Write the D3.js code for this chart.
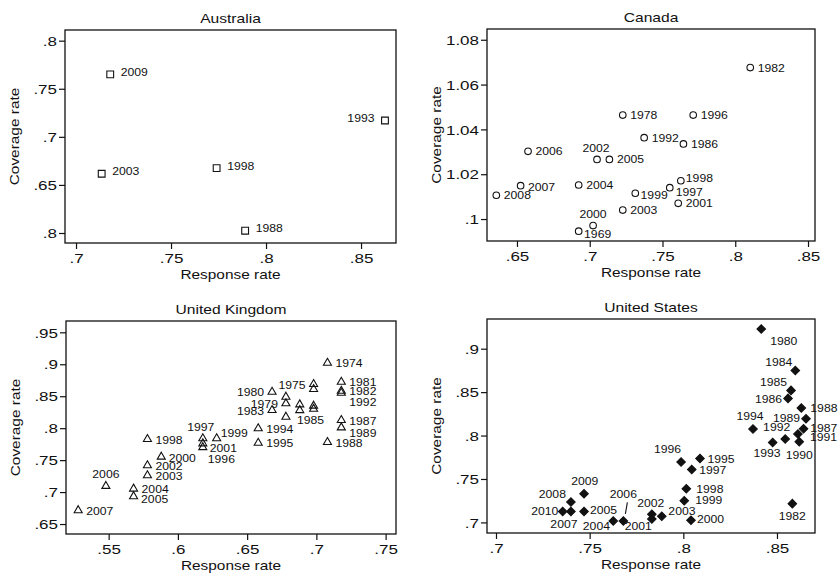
<!DOCTYPE html>
<html>
<head>
<meta charset="utf-8">
<script src="https://cdn.jsdelivr.net/npm/d3@7"></script>
<style>
  body { margin: 0; background: #fff; }
  text { font-family: "Liberation Sans", Arial, sans-serif; fill: #111; }
</style>
</head>
<body>
<svg id="chart" width="838" height="573"></svg>
<script>
// Four small scatter panels: coverage rate vs response rate, labelled by year.

// Australia
const auYears = ["1988", "1993", "1998", "2003", "2009"];
const auResp  = [0.789, 0.8626, 0.774, 0.7135, 0.718];
const auCov   = [0.6024, 0.717, 0.6675, 0.6616, 0.765];

// Canada
const caYears = ["1969", "1978", "1982", "1986", "1992", "1996", "1997", "1998", "1999",
                 "2000", "2001", "2002", "2003", "2004", "2005", "2006", "2007", "2008"];
const caResp  = [0.6924, 0.7227, 0.8103, 0.7644, 0.7374, 0.7711, 0.755, 0.7626, 0.7313,
                 0.7023, 0.7608, 0.705, 0.7227, 0.6924, 0.7135, 0.6576, 0.6525, 0.6358];
const caCov   = [0.9946, 1.0464, 1.0676, 1.0335, 1.0363, 1.0464, 1.014, 1.0171, 1.0115,
                 0.9971, 1.007, 1.0266, 1.004, 1.0152, 1.0266, 1.0302, 1.0149, 1.0106];

// United Kingdom ("" = point without a printed label)
const ukYears = ["1974", "1975", "", "", "", "1979", "", "1980", "1981", "1982", "1992",
                 "1983", "1985", "", "", "1987", "1988", "1989", "1994", "1995", "1996",
                 "1997", "1998", "1999", "2000", "2001", "2002", "2003", "2004", "2005",
                 "2006", "2007"];
const ukResp  = [0.708, 0.698, 0.698, 0.698, 0.698, 0.678, 0.678, 0.668, 0.718, 0.718, 0.718,
                 0.668, 0.678, 0.688, 0.688, 0.718, 0.708, 0.718, 0.658, 0.658, 0.618,
                 0.618, 0.578, 0.628, 0.588, 0.618, 0.578, 0.578, 0.568, 0.568,
                 0.548, 0.528];
const ukCov   = [0.902, 0.8688, 0.861, 0.835, 0.830, 0.8386, 0.849, 0.8567, 0.8723, 0.8583, 0.8552,
                 0.8281, 0.8177, 0.837, 0.828, 0.8125, 0.778, 0.801, 0.7995, 0.777, 0.770,
                 0.784, 0.7828, 0.784, 0.7552, 0.776, 0.7417, 0.726, 0.7052, 0.6933,
                 0.7094, 0.6714];

// United States
const usYears = ["1980", "1982", "1984", "1985", "1986", "1987", "1988", "1989", "1990", "1991",
                 "1992", "1993", "1994", "1995", "1996", "1997", "1998", "1999", "2000", "2001",
                 "2002", "2003", "2004", "2005", "2006", "2007", "2008", "2009", "2010"];
const usResp  = [0.8416, 0.8582, 0.8598, 0.8575, 0.8559, 0.8642, 0.863, 0.8655, 0.8619, 0.8612,
                 0.8544, 0.8477, 0.8372, 0.8089, 0.7988, 0.8045, 0.8016, 0.8005, 0.8041, 0.7832,
                 0.7832, 0.7885, 0.7626, 0.747, 0.768, 0.74, 0.74, 0.747, 0.7356];
const usCov   = [0.9227, 0.7216, 0.875, 0.852, 0.8428, 0.8079, 0.8317, 0.8194, 0.7929, 0.8018,
                 0.796, 0.7921, 0.8076, 0.7735, 0.7696, 0.7608, 0.7388, 0.725, 0.7026, 0.704,
                 0.7093, 0.707, 0.7017, 0.7126, 0.7017, 0.7126, 0.7235, 0.7331, 0.7126];

// axis ranges and ticks (tick labels as printed)
const auX = [0.6942, 0.8684], auY = [0.5896, 0.8111];
const auXTicks = [0.7, 0.75, 0.8, 0.85], auXLabels = [".7", ".75", ".8", ".85"];
const auYTicks = [0.6, 0.65, 0.7, 0.75, 0.8], auYLabels = [".8", ".65", ".7", ".75", ".8"];

const caX = [0.6294, 0.8548], caY = [0.9902, 1.0848];
const caXTicks = [0.65, 0.7, 0.75, 0.8, 0.85], caXLabels = [".65", ".7", ".75", ".8", ".85"];
const caYTicks = [1.0, 1.02, 1.04, 1.06, 1.08], caYLabels = [".1", "1.02", "1.04", "1.06", "1.08"];

const ukX = [0.5192, 0.7575], ukY = [0.6344, 0.9677];
const ukXTicks = [0.55, 0.6, 0.65, 0.7, 0.75], ukXLabels = [".55", ".6", ".65", ".7", ".75"];
const ukYTicks = [0.65, 0.7, 0.75, 0.8, 0.85, 0.9, 0.95], ukYLabels = [".65", ".7", ".75", ".8", ".85", ".9", ".95"];

const usX = [0.6952, 0.8703], usY = [0.6878, 0.9342];
const usXTicks = [0.7, 0.75, 0.8, 0.85], usXLabels = [".7", ".75", ".8", ".85"];
const usYTicks = [0.7, 0.75, 0.8, 0.85, 0.9], usYLabels = [".7", ".75", ".8", ".85", ".9"];

// label placement: [dx, dy, anchor]; 9 = left of marker, 12 = above
const auPos = { "1993": 9 };
const caPos = { "2002": [-1, -7.6, "middle"], "2000": 12, "1969": [5.4, 7, "start"],
                "1999": [5.3, 5.7, "start"], "1997": [6, 8, "start"], "1998": [5, 1.7, "start"],
                "2007": [7.3, 5, "start"] };
const ukPos = { "1975": 9, "1979": 9, "1980": 9, "1983": 9, "1985": [11, 7, "start"],
                "1989": [8, 9, "start"], "1992": [8, 13, "start"], "1996": [5, 16, "start"],
                "1997": [-2, -7, "middle"], "1999": [4, -1.5, "start"], "2001": [7, 8.5, "start"],
                "2000": [7.5, 5.5, "start"], "2005": [7.5, 7, "start"], "2006": [0, -8.5, "middle"] };
const usPos = { "1980": [9, 16, "start"], "1982": [0, 16, "middle"], "1984": [-3, -4, "end"],
                "1985": [-4, -4, "end"], "1986": [-6, 4.7, "end"], "1987": [6.7, 3.3, "start"],
                "1988": [9, 4.4, "start"], "1989": [-6, 3.7, "end"], "1990": [0, 17, "middle"],
                "1991": [12, 7.4, "start"], "1992": [5, -8, "end"], "1993": [-5.6, 14.6, "middle"],
                "1994": [-3, -9, "middle"], "1996": [0, -9, "end"], "1998": [10, 4, "start"],
                "1999": [11, 3.5, "start"], "2000": [6, 3.3, "start"], "2001": [0, 10.7, "end"],
                "2002": [-1, -7.4, "middle"], "2003": [6.6, -1.7, "start"], "2004": [-3.3, 8.7, "end"],
                "2005": [6, 2.7, "start"], "2006": [0, -23, "middle"], "2007": [-7, 17, "middle"],
                "2008": [-5, -4, "end"], "2009": [0.7, -9, "middle"], "2010": [-4.4, 3.7, "end"] };

const panels = [
  { title: "Australia", years: auYears, xs: auResp, ys: auCov, xd: auX, yd: auY,
    xt: auXTicks, xl: auXLabels, yt: auYTicks, yl: auYLabels, pos: auPos,
    def: [10.5, 1.5], marker: "square", box: { x: 65, y: 30, w: 331, h: 213 } },
  { title: "Canada", years: caYears, xs: caResp, ys: caCov, xd: caX, yd: caY,
    xt: caXTicks, xl: caXLabels, yt: caYTicks, yl: caYLabels, pos: caPos,
    def: [7.5, 4], marker: "circle", box: { x: 487, y: 29, w: 328, h: 212 } },
  { title: "United Kingdom", years: ukYears, xs: ukResp, ys: ukCov, xd: ukX, yd: ukY,
    xt: ukXTicks, xl: ukXLabels, yt: ukYTicks, yl: ukYLabels, pos: ukPos,
    def: [8, 4.5], marker: "triangle", box: { x: 66, y: 321, w: 330, h: 213 } },
  { title: "United States", years: usYears, xs: usResp, ys: usCov, xd: usX, yd: usY,
    xt: usXTicks, xl: usXLabels, yt: usYTicks, yl: usYLabels, pos: usPos,
    def: [7.5, 4.3], marker: "diamond", box: { x: 487, y: 319, w: 328, h: 214 } }
];

const svg = d3.select("#chart");
svg.append("rect").attr("width", 838).attr("height", 573).attr("fill", "#fff");

// text is a bit flatter than Arial in the scan, so squash it vertically
function label(g, x, y, str, size, anchor, sy, rot) {
  return g.append("text")
    .attr("transform", `translate(${x},${y})` + (rot ? ` rotate(${rot})` : "") + ` scale(1,${sy})`)
    .attr("text-anchor", anchor)
    .style("font-size", size + "px")
    .text(str);
}

const symbols = {
  square:   { type: d3.symbolSquare,   size: 46, fill: "none", rot: 0 },
  circle:   { type: d3.symbolCircle,   size: 34, fill: "none", rot: 0 },
  triangle: { type: d3.symbolTriangle, size: 28, fill: "none", rot: 0 },
  diamond:  { type: d3.symbolSquare,   size: 36, fill: "#111", rot: 45 }
};

panels.forEach(p => {
  const b = p.box;
  const g = svg.append("g").attr("transform", `translate(${b.x},${b.y})`);
  const x = d3.scaleLinear().domain(p.xd).range([0, b.w]);
  const y = d3.scaleLinear().domain(p.yd).range([b.h, 0]);

  // axes
  const xa = g.append("g").attr("transform", `translate(0,${b.h})`)
    .call(d3.axisBottom(x).tickValues(p.xt).tickSize(6).tickFormat((d, i) => p.xl[i]));
  const ya = g.append("g")
    .call(d3.axisLeft(y).tickValues(p.yt).tickSize(6).tickFormat((d, i) => p.yl[i]));
  [xa, ya].forEach(a => {
    a.select(".domain").remove();
    a.selectAll(".tick line").attr("stroke", "#111").attr("stroke-width", 1.2);
    a.selectAll(".tick text").attr("x", null).attr("y", null).attr("dy", null)
      .attr("fill", "#111").style("font-size", "17px")
      .style("font-family", '"Liberation Sans", Arial, sans-serif');
  });
  xa.selectAll(".tick text").attr("text-anchor", "middle").attr("transform", "translate(0,20) scale(1,0.76)");
  ya.selectAll(".tick text").attr("text-anchor", "end").attr("transform", "translate(-8,4.7) scale(1,0.76)");

  // frame
  g.append("rect").attr("width", b.w).attr("height", b.h)
    .attr("fill", "none").attr("stroke", "#111").attr("stroke-width", 1.3);

  // titles
  label(g, b.w / 2, -7.5, p.title, 15.6, "middle", 0.82);
  label(g, b.w / 2, b.h + 36, "Response rate", 15.4, "middle", 0.8);
  label(g, -46, b.h / 2, "Coverage rate", 15.4, "middle", 0.8, -90);

  // points
  const s = symbols[p.marker];
  const pts = p.xs.map((v, i) => ({ x: v, y: p.ys[i], year: p.years[i] }));
  g.selectAll("path.pt").data(pts).enter().append("path")
    .attr("class", "pt")
    .attr("d", d3.symbol().type(s.type).size(s.size))
    .attr("transform", d => `translate(${x(d.x)},${y(d.y)}) rotate(${s.rot})`)
    .attr("fill", s.fill).attr("stroke", "#111").attr("stroke-width", 1.1);

  // year labels
  pts.filter(d => d.year).forEach(d => {
    let o = p.pos[d.year];
    if (o === 9) o = [-p.def[0], p.def[1], "end"];
    else if (o === 12) o = [0, -7.5, "middle"];
    else if (!o) o = [p.def[0], p.def[1], "start"];
    label(g, x(d.x) + o[0], y(d.y) + o[1], d.year, 12.2, o[2], 0.84);
    if (p.marker === "diamond" && d.year === "2006") {
      g.append("line")
        .attr("x1", x(d.x) + 4).attr("y1", y(d.y) - 18.5)
        .attr("x2", x(d.x) + 2).attr("y2", y(d.y) - 7)
        .attr("stroke", "#111").attr("stroke-width", 1.1);
    }
  });
});
</script>
</body>
</html>
